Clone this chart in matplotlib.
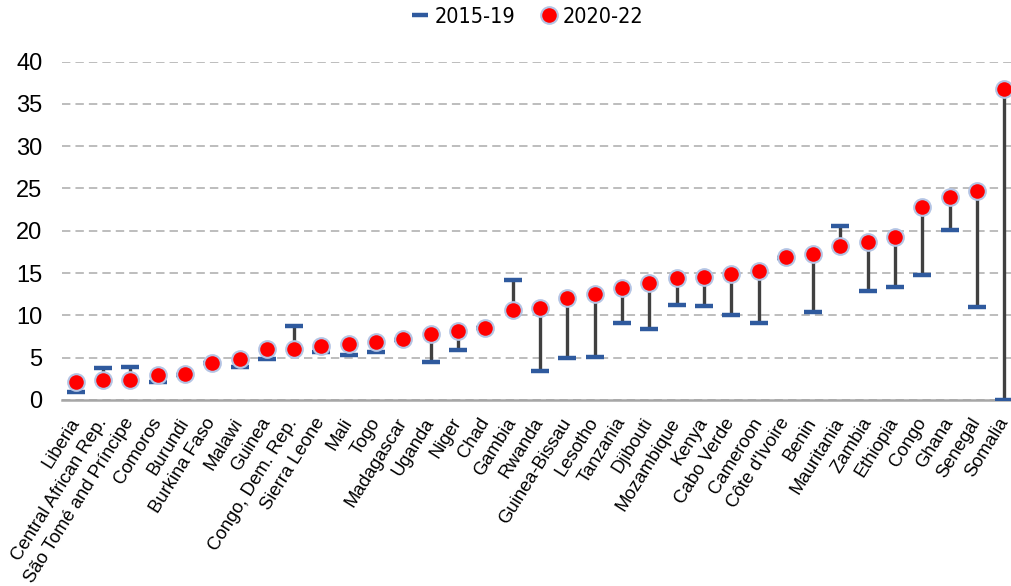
import matplotlib
matplotlib.use("Agg")
import matplotlib.pyplot as plt
from matplotlib.lines import Line2D
from matplotlib.transforms import ScaledTranslation

countries = ["Liberia", "Central African Rep.", "São Tomé and Príncipe", "Comoros", "Burundi",
             "Burkina Faso", "Malawi", "Guinea", "Congo, Dem. Rep.", "Sierra Leone",
             "Mali", "Togo", "Madagascar", "Uganda", "Niger", "Chad", "Gambia", "Rwanda",
             "Guinea-Bissau", "Lesotho", "Tanzania", "Djibouti", "Mozambique", "Kenya",
             "Cabo Verde", "Cameroon", "Côte d'Ivoire", "Benin", "Mauritania", "Zambia",
             "Ethiopia", "Congo", "Ghana", "Senegal", "Somalia"]
v2015_19 = [0.98, 3.77, 3.93, 2.08, 2.95, 4.4, 3.93, 4.83, 8.72, 5.69,
            5.26, 5.65, 7.1, 4.47, 5.85, 8.5, 14.13, 3.42, 5.02, 5.10,
            9.15, 8.44, 11.25, 11.13, 10.03, 9.08, 16.8, 10.34, 20.55, 12.83,
            13.3, 14.75, 20.12, 10.97, 0.0]
v2020_22 = [2.16, 2.36, 2.36, 2.94, 3.02, 4.4, 4.83, 5.97, 5.97, 6.36,
            6.67, 6.87, 7.22, 7.85, 8.16, 8.52, 10.64, 10.88, 12.05, 12.56,
            13.23, 13.82, 14.4, 14.5, 14.9, 15.19, 16.84, 17.28, 18.14, 18.65,
            19.25, 22.75, 23.94, 24.65, 36.8]
yticks = [0, 5, 10, 15, 20, 25, 30, 35, 40]

W, H = 1012, 586
fig = plt.figure(figsize=(W / 100, H / 100), dpi=100)
left, right, bottom, top = 62, 1018, 400, 61.5
ax = fig.add_axes([left / W, (H - bottom) / H, (right - left) / W, (bottom - top) / H])

x = list(range(len(countries)))
blue = "#2f5a9e"
for xi, a, b in zip(x, v2015_19, v2020_22):
    ax.plot([xi, xi], [a, b], color="#404040", lw=2.4, zorder=2, solid_capstyle="butt")
ax.plot(x, v2015_19, linestyle="none", marker="_", markersize=13, mew=3.2,
        color=blue, zorder=3)
ax.plot(x, v2020_22, linestyle="none", marker="o", markersize=12,
        markerfacecolor="#ff0000", markeredgecolor="#b4c4e4", mew=1.5, zorder=4)

ax.set_xlim(-0.5, len(countries) - 0.5)
ax.set_ylim(0, 40)
ax.set_yticks(yticks)
ax.set_yticklabels([str(t) for t in yticks], fontsize=17, family="Liberation Sans")
ax.set_xticks(x)
ax.set_xticklabels(countries, rotation=58, ha="right", va="center",
                   rotation_mode="anchor", fontsize=13.3, family="Liberation Sans")
shift = ScaledTranslation(-6 / 100, 0, fig.dpi_scale_trans)
for lbl in ax.get_xticklabels():
    lbl.set_transform(lbl.get_transform() + shift)
ax.tick_params(axis="both", length=0)
ax.tick_params(axis="y", pad=14)
ax.tick_params(axis="x", pad=14)
ax.yaxis.grid(True, color="#ababab", linestyle=(0, (5.5, 3.3)), linewidth=1.1)
ax.set_axisbelow(True)
for s in ["left", "right", "top"]:
    ax.spines[s].set_visible(False)
ax.spines["bottom"].set_color("#a6a6a6")
ax.spines["bottom"].set_linewidth(1.8)
ax.spines["bottom"].set_zorder(1)

handles = [
    Line2D([], [], linestyle="none", marker="_", markersize=12, mew=3.2, color=blue),
    Line2D([], [], linestyle="none", marker="o", markersize=12,
           markerfacecolor="#ff0000", markeredgecolor="#b4c4e4", mew=1.5),
]
fig.legend(handles, ["2015-19", "2020-22"], loc="center", bbox_to_anchor=(528 / W, 1 - 17 / H),
           ncol=2, frameon=False, handlelength=0.7, handletextpad=0.3, columnspacing=1.2,
           prop={"family": "DejaVu Sans", "size": 15.5, "stretch": "condensed"})

fig.savefig("out.png", dpi=100)
